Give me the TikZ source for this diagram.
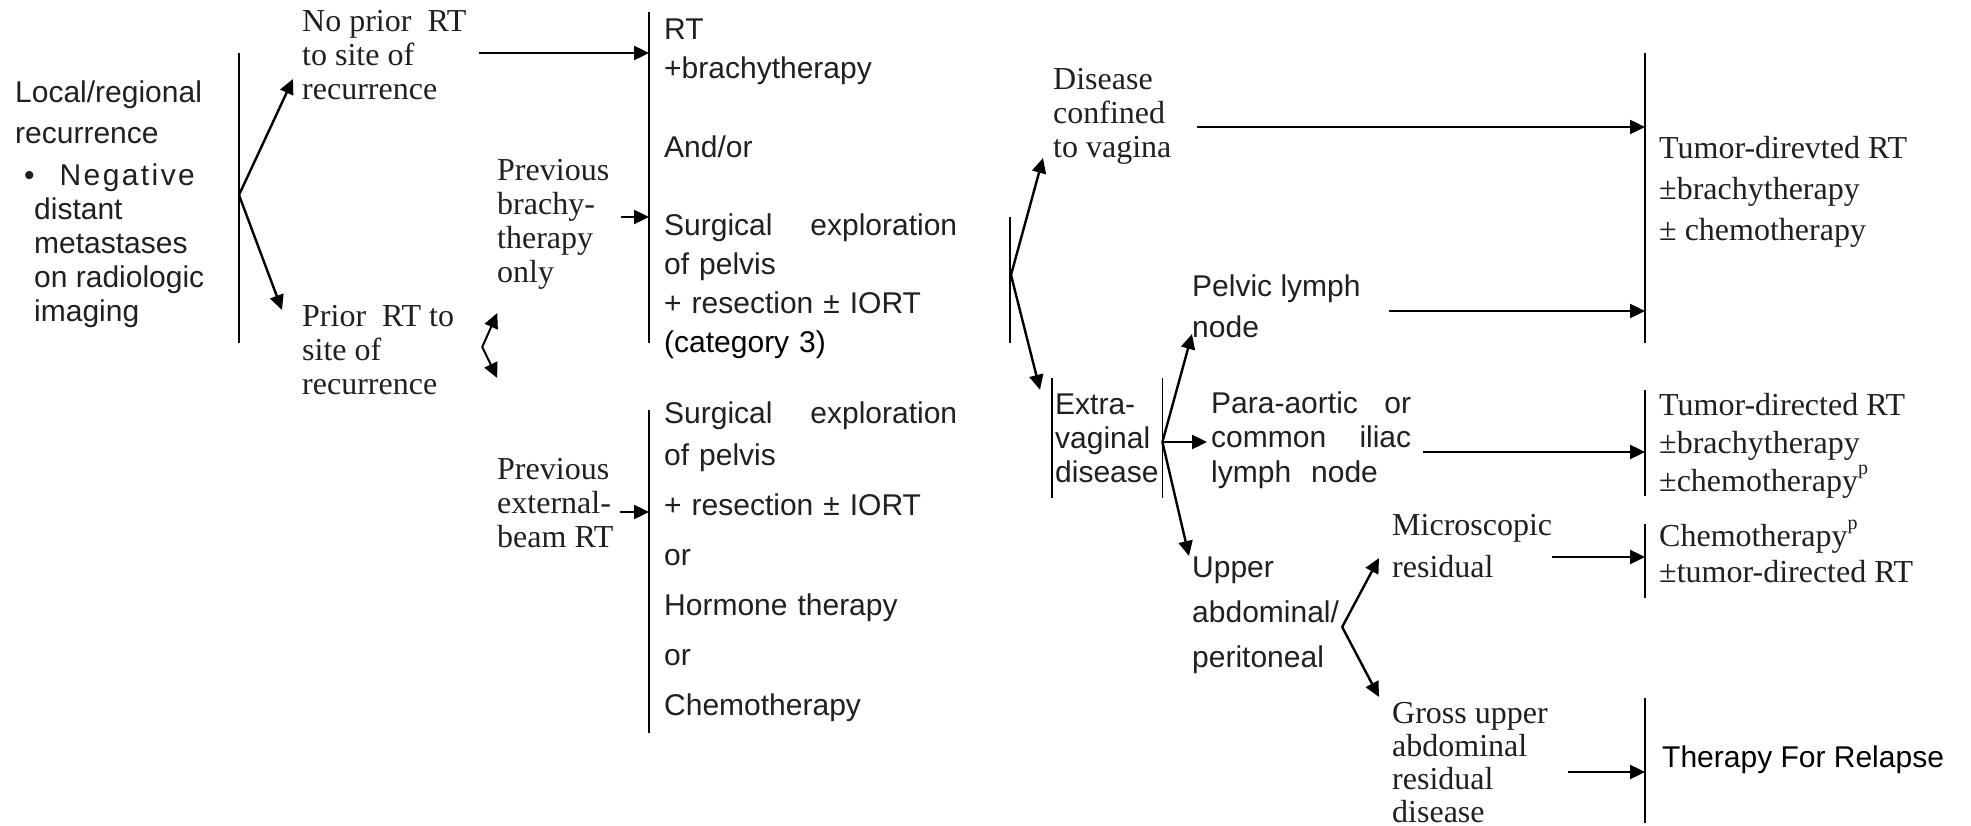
\documentclass[tikz,border=0pt]{standalone}
\usepackage{fontspec}
\setmainfont{Liberation Serif}
\setsansfont{Liberation Sans}
\usepackage{tikz}
\usetikzlibrary{calc,arrows.meta}
\usepackage{xcolor}
\definecolor{ink}{RGB}{35,31,32}
\newcommand{\fnp}{\raisebox{17pt}{\fontsize{20}{20}\selectfont p}}

\begin{document}
\begin{tikzpicture}[x=1pt, y=-1pt, >={Triangle[length=15pt,width=14pt]},
    every node/.style={inner sep=0pt, anchor=west, align=left, text=ink},
    sanstext/.style={font=\sffamily\fontsize{30}{#1}\selectfont}, sanstext/.default=34,
    seriftext/.style={font=\rmfamily\fontsize{32}{#1}\selectfont}, seriftext/.default=34,
    bar/.style={line width=1.6pt},
    arr/.style={line width=2.4pt, ->}]
      \useasboundingbox (0,0) rectangle (1971,826);
      \fill[white] (0,0) rectangle (1971,826);

      % first split
      \node[sanstext] (lrr) at (15,204) {Local/regional\\[7pt]recurrence\\[8pt]\hspace*{9pt}\textbullet\hspace*{25pt}{\addfontfeatures{LetterSpace=8}Negative}\\\hspace*{19pt}distant\\\hspace*{19pt}metastases\\\hspace*{19pt}on radiologic\\\hspace*{19pt}imaging};
      \coordinate (lbarT) at (239,53);
      \coordinate (lbarB) at (239,343);
      \coordinate (lsplit) at (239,195);
      \draw[bar] (lbarT) -- (lbarB);
      \node[seriftext] (noprior) at (302,55) {No prior~~RT\\to site of\\recurrence};
      \node[seriftext] (prior) at (302,350) {Prior~~RT to\\site of\\recurrence};
      \draw[arr] (lsplit) -- ($(noprior.west)+(-9,24)$);
      \draw[arr] (lsplit) -- ($(prior.west)+(-20,-40)$);
      \coordinate (zz) at ($(prior.east)+(28,-3)$);
      \draw[line width=2pt, <->] ($(zz)+(15,-34)$) -- (zz) -- ($(zz)+(15,31)$);

      % treatment of the pelvis
      \coordinate (mtopT) at (649,12);
      \coordinate (mtopB) at (649,343);
      \coordinate (mbotT) at (649,410);
      \coordinate (mbotB) at (649,733);
      \draw[bar] (mtopT) -- (mtopB);
      \draw[bar] (mbotT) -- (mbotB);
      \node[seriftext] (prevbrachy) at (497,224) {Previous\\brachy-\\therapy\\only};
      \node[seriftext] (prevext) at (497,503) {Previous\\external-\\beam RT};
      \node[sanstext=39, text width=293pt] (rtopts) at (664,189) {RT\\+brachytherapy\\[40pt]And/or\\[39pt]Surgical\hfill exploration\\of pelvis\\+ resection ± IORT\\\textcolor{black}{(category 3)}};
      \node[sanstext=50, text width=293pt] (surgopts) at (664,562) {Surgical\hfill exploration\\[-8pt]of pelvis\\+ resection ± IORT\\or\\Hormone therapy\\or\\Chemotherapy};
      \coordinate (s3) at ($(noprior.east)+(12,-2)$);
      \draw[arr] (s3) -- (s3 -| mtopT);
      \coordinate (s5) at ($(prevbrachy.east)+(12,-7)$);
      \draw[arr] (s5) -- (s5 -| mtopT);
      \coordinate (s6) at ($(prevext.east)+(6,9)$);
      \draw[arr] (s6) -- (s6 -| mbotT);

      % second split
      \coordinate (rbarT) at (1010,217);
      \coordinate (rbarB) at (1010,343);
      \coordinate (rsplit) at (1011,275);
      \draw[bar] (rbarT) -- (rbarB);
      \node[seriftext] (confined) at (1053,116) {Disease\\confined\\to vagina};
      \node[sanstext, minimum height=120pt, text width=104pt, inner xsep=3pt] (extrav) at (1052,438) {Extra-\\vaginal\\disease};
      \draw[bar] (extrav.north west) -- (extrav.south west);
      \draw[bar] (extrav.north east) -- (extrav.south east);
      \draw[arr] (rsplit) -- ($(confined.west)+(-10,42)$);
      \draw[arr] (rsplit) -- ($(extrav.north west)+(-12,12)$);

      \coordinate (esplit) at ($(extrav.east)+(0,4)$);
      \node[sanstext=41] (pelvic) at (1192,306) {Pelvic lymph\\node};
      \node[sanstext=34.5, text width=200pt] (paraaortic) at (1211,440) {Para-aortic\hfill or\\common\hfill iliac\\lymph~~node};
      \node[sanstext=45] (upper) at (1192,615) {Upper\\abdominal/\\peritoneal};
      \draw[arr] (esplit) -- ($(pelvic.west)+(0,28)$);
      \draw[arr] (esplit) -- ($(esplit -| paraaortic.west)+(-4,0)$);
      \draw[arr] (esplit) -- ($(upper.west)+(-3,-59)$);

      \coordinate (usplit) at ($(upper.east)+(3,12)$);
      \node[seriftext=42] (micro) at (1392,546) {Microscopic\\residual};
      \node[seriftext=33] (gross) at (1392,763) {Gross upper\\abdominal\\residual\\disease};
      \draw[arr] (usplit) -- ($(micro.west)+(-13,12)$);
      \draw[arr] (usplit) -- ($(gross.west)+(-13,-66)$);

      % therapy column
      \coordinate (rb1T) at (1645,53);
      \coordinate (rb1B) at (1645,343);
      \coordinate (rb2T) at (1645,390);
      \coordinate (rb2B) at (1645,496);
      \coordinate (rb3T) at (1645,524);
      \coordinate (rb3B) at (1645,598);
      \coordinate (rb4T) at (1645,698);
      \coordinate (rb4B) at (1645,823);
      \draw[bar] (rb1T) -- (rb1B);
      \draw[bar] (rb2T) -- (rb2B);
      \draw[bar] (rb3T) -- (rb3B);
      \draw[bar] (rb4T) -- (rb4B);
      \node[seriftext=41] (tdrt1) at (1659,192) {Tumor-direvted RT\\±brachytherapy\\± chemotherapy};
      \node[seriftext=38] (tdrt2) at (1659,446) {Tumor-directed RT\\±brachytherapy\\±chemotherapy\fnp};
      \node[seriftext=36] (chemo) at (1659,551) {Chemotherapy\fnp\\±tumor-directed RT};
      \node[sanstext] (relapse) at (1662,760) {\textcolor{black}{Therapy For Relapse}};

      \coordinate (s12) at ($(confined.east)+(25,11)$);
      \draw[arr] (s12) -- (s12 -| rb1T);
      \coordinate (s13) at ($(pelvic.east)+(28,5)$);
      \draw[arr] (s13) -- (s13 -| rb1T);
      \coordinate (s14) at ($(paraaortic.east)+(12,12)$);
      \draw[arr] (s14) -- (s14 -| rb2T);
      \coordinate (s17) at ($(micro.east)+(0,11)$);
      \draw[arr] (s17) -- (s17 -| rb3T);
      \coordinate (s18) at ($(gross.east)+(20,9)$);
      \draw[arr] (s18) -- (s18 -| rb4T);
    \end{tikzpicture}
\end{document}
